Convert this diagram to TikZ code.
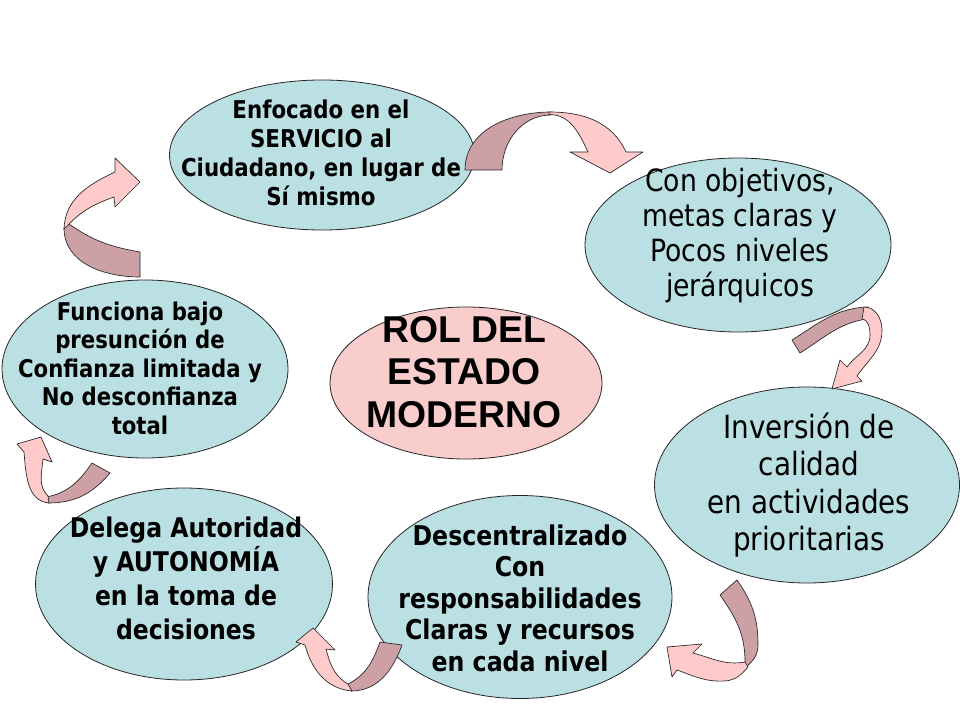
\documentclass[tikz,border=0pt]{standalone}
\usepackage{fontspec}
\newfontfamily\tahoma{DejaVu Sans}[FakeStretch=0.87]
\newfontfamily\arialbold{Liberation Sans}
\usetikzlibrary{shapes.geometric, positioning}

\definecolor{cellblue}{HTML}{BBE0E3}
\definecolor{corepink}{HTML}{FACDCD}
\definecolor{ribdark}{HTML}{CDA0A5}
\definecolor{riblight}{HTML}{FFCACA}

\begin{document}
\begin{tikzpicture}[
    x=0.75pt, y=0.75pt,
    cell/.style 2 args={ellipse, draw=black!85, line width=0.6pt, inner sep=0pt,
        minimum width=#1*0.75pt, minimum height=#2*0.75pt},
    bluecell/.style 2 args={cell={#1}{#2}, fill=cellblue},
    pinkcell/.style 2 args={cell={#1}{#2}, fill=corepink},
    boldtext/.style 2 args={align=center, inner sep=0pt, font=\tahoma\bfseries\fontsize{#1}{#2}\selectfont},
    plaintext/.style 2 args={align=center, inner sep=0pt, font=\tahoma\fontsize{#1}{#2}\selectfont},
    coretext/.style={align=center, inner sep=0pt, font=\arialbold\bfseries\fontsize{28}{32}\selectfont},
    backribbon/.style={fill=ribdark, draw=black!85, line width=0.5pt, line join=round},
    frontribbon/.style={fill=riblight, draw=black!85, line width=0.5pt, line join=round}
]
\fill[white] (0,0) rectangle (960,-720);
\useasboundingbox (0,0) rectangle (960,-720);

% Cells
\node[bluecell={305}{150}] (servicio) at (322,-155) {};
\node[bluecell={306}{174}] (objetivos) at (738,-245) {};
\node[bluecell={305}{196}] (inversion) at (807,-485) {};
\node[bluecell={304}{203}] (descentr) at (520,-597) {};
\node[bluecell={297}{192}] (delega) at (184,-584) {};
\node[bluecell={286}{178}] (funciona) at (145,-369) {};
\node[pinkcell={272}{152}] (rol) at (466,-383) {};

% Ribbons: back part first, front part with the head on top
% top
\filldraw[backribbon] (465,-170) to[out=90,in=180] (551,-112) -- (551,-115)
  to[out=180,in=90] (502,-170) -- cycle;
\filldraw[frontribbon] (549,-112) to[out=0,in=115] (626,-152) -- (643,-152)
  -- (610,-173) -- (570,-152) -- (588,-152) to[out=115,in=0] (549,-114.5) -- cycle;
% right
\filldraw[backribbon] (792,-340) to[out=32,in=182] (868,-307) -- (866,-319)
  to[out=190,in=32] (800,-353) -- cycle;
\filldraw[frontribbon] (864,-307) to[out=0,in=90] (882,-330) to[out=-90,in=55] (857,-376)
  -- (862,-381) -- (832,-389) -- (840,-360) -- (847,-367)
  to[out=55,in=-90] (870,-335) to[out=90,in=-10] (862,-319) -- cycle;
% bottom right
\filldraw[backribbon] (720,-595) -- (737,-580) to[out=-55,in=90] (758,-645)
  to[out=-90,in=40] (745,-668) -- (745,-662) to[out=90,in=-55] (720,-595) -- cycle;
\filldraw[frontribbon] (745,-662) to[out=190,in=-15] (693,-653) -- (702,-644)
  -- (667,-647) -- (672,-677) -- (677,-670) to[out=-20,in=183] (725,-681)
  to[out=5,in=-130] (748,-667) -- cycle;
% bottom middle
\filldraw[backribbon] (380,-642) -- (402,-645) to[out=-110,in=0] (351,-691) -- (346,-685)
  to[out=25,in=-110] (380,-642) -- cycle;
\filldraw[frontribbon] (352,-691) to[out=175,in=-75] (305,-645) -- (296,-642)
  -- (313,-628) -- (335,-650) -- (326,-649) to[out=-75,in=150] (348,-684) -- cycle;
% bottom left
\filldraw[backribbon] (92,-463) -- (110,-473) to[out=-130,in=0] (48,-503) -- (46,-497)
  to[out=10,in=-125] (92,-463) -- cycle;
\filldraw[frontribbon] (49,-503) to[out=175,in=-85] (24,-452) -- (17,-444)
  -- (41,-437) -- (52,-462) -- (43,-459) to[out=-95,in=135] (48,-496) -- cycle;
% top left
\filldraw[backribbon] (140,-252) -- (140,-277) to[out=180,in=-90] (64,-228) -- (69,-224)
  to[out=-35,in=170] (140,-252) -- cycle;
\filldraw[frontribbon] (64,-229) to[out=88,in=205] (115,-172) -- (115,-158)
  -- (140,-182) -- (115,-207) -- (114,-197) to[out=200,in=45] (69,-224) -- cycle;

% Texts
\node[boldtext={18.4}{21.75}] (serviciotxt) at (321,-153)
  {Enfocado en el\\SERVICIO al\\Ciudadano, en lugar de\\Sí mismo};
\node[plaintext={23}{26.25}] (objetivostxt) at (740,-236)
  {Con objetivos,\\ metas claras y\\Pocos niveles\\jerárquicos};
\node[plaintext={24}{28}] (inversiontxt) at (809,-485)
  {Inversión de\\calidad\\en actividades\\prioritarias};
\node[boldtext={20.4}{23.6}] (descentrtxt) at (520,-598)
  {Descentralizado\\Con\\responsabilidades\\Claras y recursos\\en cada nivel};
\node[boldtext={20.3}{25.5}] (delegatxt) at (186,-578)
  {Delega Autoridad\\y AUTONOMÍA\\en la toma de\\decisiones};
\node[boldtext={18.3}{21.4}] (funcionatxt) at (140,-368)
  {Funciona bajo\\presunción de\\Confianza limitada y\\No desconfianza\\total};
\node[coretext] (roltxt) at (464,-372) {ROL DEL\\ESTADO\\MODERNO};

\end{tikzpicture}
\end{document}
